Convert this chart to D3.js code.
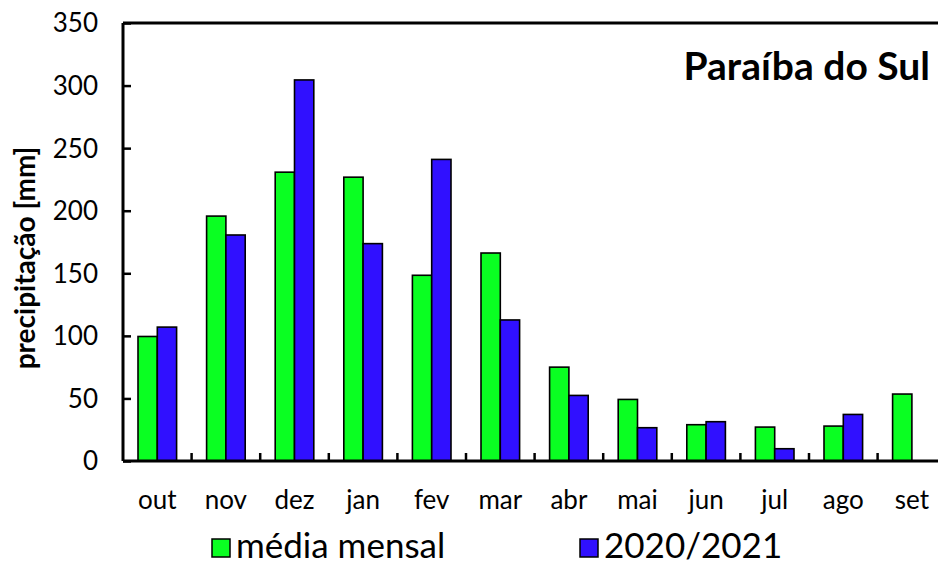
<!DOCTYPE html>
<html lang="pt">
<head>
<meta charset="utf-8">
<title>Paraíba do Sul</title>
<script src="https://cdnjs.cloudflare.com/ajax/libs/d3/7.8.5/d3.min.js"></script>
<style>
  body { margin: 0; background: #fff; }
  text { font-family: Lato, "Open Sans", sans-serif; fill: #000; }
</style>
</head>
<body>
<script>
// monthly precipitation (mm)
var months = ["out", "nov", "dez", "jan", "fev", "mar", "abr", "mai", "jun", "jul", "ago", "set"];
var mediaMensal = [99.5, 195.7, 230.8, 226.8, 148.4, 166.2, 75, 49.2, 29, 27.1, 27.9, 53.5];
var ano2020 = [107, 180.6, 304.5, 173.7, 241, 112.7, 52.4, 26.6, 31.4, 9.8, 37.2, null];
var yTicks = [0, 50, 100, 150, 200, 250, 300, 350];
var seriesNames = ["média mensal", "2020/2021"];
var colors = ["#0aff22", "#3010ff"];

var W = 938, H = 567;
var margin = {top: 23, left: 123, bottom: 106};
var plotH = H - margin.top - margin.bottom;
var bandW = 68.6;

var svg = d3.select("body").append("svg")
  .attr("width", W)
  .attr("height", H);

var x = d3.scaleBand()
  .domain(months)
  .range([margin.left, margin.left + bandW * months.length])
  .paddingInner(0).paddingOuter(0);

var y = d3.scaleLinear()
  .domain([0, 350])
  .range([margin.top + plotH, margin.top]);

var barW = 19.3;

// top frame line
svg.append("line")
  .attr("x1", x.range()[0]).attr("x2", x.range()[1])
  .attr("y1", y(350)).attr("y2", y(350))
  .attr("stroke", "#000").attr("stroke-width", 3);

// bars
var series = [mediaMensal, ano2020];
series.forEach(function(vals, si) {
  svg.append("g").selectAll("rect")
    .data(months.map(function(m, i) { return {m: m, v: vals[i]}; }).filter(function(d) { return d.v != null; }))
    .enter().append("rect")
    .attr("x", function(d) { return x(d.m) + x.bandwidth() / 2 - barW + si * barW; })
    .attr("y", function(d) { return y(d.v); })
    .attr("width", barW)
    .attr("height", function(d) { return y(0) - y(d.v); })
    .attr("fill", colors[si])
    .attr("stroke", "#000")
    .attr("stroke-width", 1.6);
});

// y axis
var yAxis = svg.append("g")
  .attr("transform", "translate(" + margin.left + ",0)")
  .call(d3.axisRight(y).tickValues(yTicks).tickSize(8).tickFormat(""));
yAxis.select(".domain").attr("stroke-width", 3).attr("d", "M0," + y(0) + "V" + y(350));
yAxis.selectAll(".tick line").attr("stroke-width", 2.5);

svg.append("g").selectAll("text")
  .data(yTicks)
  .enter().append("text")
  .attr("x", 98)
  .attr("y", function(d) { return y(d); })
  .attr("dy", "0.36em")
  .attr("text-anchor", "end")
  .style("font-size", "26px")
  .text(function(d) { return d; });

// x axis
var xAxis = svg.append("g")
  .attr("transform", "translate(0," + y(0) + ")")
  .call(d3.axisTop(x).tickSize(0).tickFormat(""));
xAxis.select(".domain").attr("stroke-width", 3).attr("d", "M" + x.range()[0] + ",0H" + x.range()[1]);
xAxis.selectAll(".tick").remove();

svg.append("g").selectAll("line")
  .data(months.slice(1))
  .enter().append("line")
  .attr("x1", function(d) { return x(d); })
  .attr("x2", function(d) { return x(d); })
  .attr("y1", y(0)).attr("y2", y(0) - 8)
  .attr("stroke", "#000").attr("stroke-width", 2.5);

svg.append("g").selectAll("text")
  .data(months)
  .enter().append("text")
  .attr("x", function(d) { return x(d) + x.bandwidth() / 2; })
  .attr("y", 509)
  .attr("text-anchor", "middle")
  .style("font-size", "26px")
  .text(function(d) { return d; });

// y label
svg.append("text")
  .attr("transform", "translate(35," + 258 + ") rotate(-90)")
  .attr("text-anchor", "middle")
  .style("font-size", "28px")
  .style("font-weight", "bold")
  .text("precipitação [mm]");

// title
svg.append("text")
  .attr("x", 930)
  .attr("y", 80)
  .attr("text-anchor", "end")
  .style("font-size", "39px")
  .style("font-weight", "bold")
  .text("Paraíba do Sul");

// legend
var legX = [212, 580];
var leg = svg.append("g").selectAll("g")
  .data(seriesNames)
  .enter().append("g")
  .attr("transform", function(d, i) { return "translate(" + legX[i] + ",539)"; });
leg.append("rect")
  .attr("width", 18).attr("height", 18)
  .attr("fill", function(d, i) { return colors[i]; })
  .attr("stroke", "#000").attr("stroke-width", 1.5);
leg.append("text")
  .attr("x", 24)
  .attr("y", 19)
  .style("font-size", "35px")
  .text(function(d) { return d; });
</script>
</body>
</html>
